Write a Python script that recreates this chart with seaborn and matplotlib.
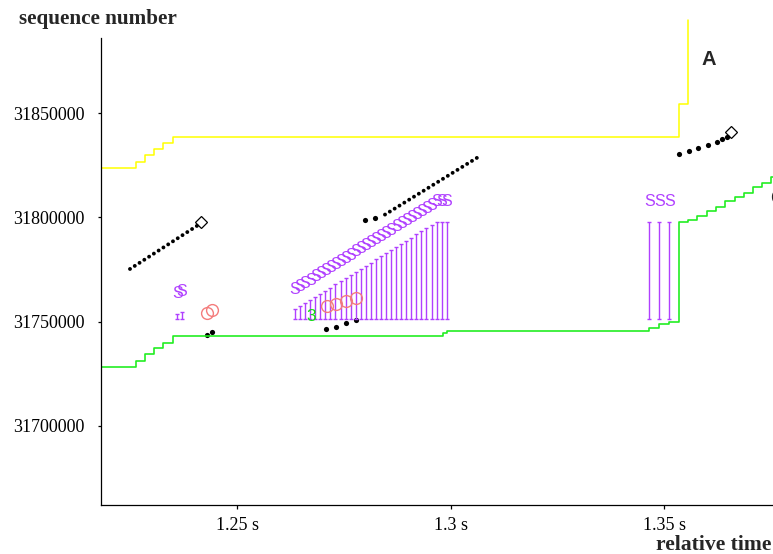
import matplotlib
matplotlib.use("Agg")
import matplotlib.pyplot as plt
import seaborn as sns
import pandas as pd

# ---- data -------------------------------------------------------------
# receive-window edge (yellow step line)
win_t = [1.2180, 1.22616, 1.22834, 1.23052, 1.23262, 1.23482, 1.35340, 1.35557]
win_seq = [31823900, 31826800, 31829800, 31832700, 31835600, 31838800, 31854300, 31894800]

# cumulative ACK (green step line)
ack_t = [1.2180, 1.22616, 1.22834, 1.23052, 1.23262, 1.23482, 1.29801, 1.29906,
         1.34644, 1.34878, 1.35112, 1.35340, 1.35550, 1.35761, 1.35995, 1.36206,
         1.36417, 1.36651, 1.36862, 1.37073, 1.37283, 1.37494, 1.3760]
ack_seq = [31728400, 31731300, 31734400, 31737200, 31739900, 31743100, 31744400, 31745700,
           31747100, 31748800, 31750000, 31797700, 31798800, 31800700, 31803100, 31805000,
           31807900, 31809800, 31811800, 31814600, 31816600, 31819400, 31821800]

# back-to-back segment runs (drawn as dotted runs)
run1_t = [1.22482, 1.24082]
run1_seq = [31775300, 31796400]
run2_t = [1.28454, 1.30621]
run2_seq = [31801400, 31828800]

# isolated segments
seg_t = [1.24279, 1.24403, 1.27986, 1.28220, 1.27066, 1.27300, 1.27534, 1.27768,
         1.35340, 1.35574, 1.35792, 1.36026, 1.36237, 1.36340, 1.36457]
seg_seq = [31743500, 31745100, 31798800, 31799900, 31746400, 31747600, 31749500, 31750700,
           31830500, 31831900, 31833300, 31834800, 31836400, 31837500, 31838800]

# push-flagged segments
push_t = [1.24145, 1.36557]
push_seq = [31797700, 31841200]

# retransmissions
rexmit_t = [1.24293, 1.24396, 1.27089, 1.27307, 1.27541, 1.27775]
rexmit_seq = [31754000, 31755600, 31757500, 31758300, 31759900, 31761400]

# triple duplicate ack marker
dup3_t = [1.26714]
dup3_seq = [31752400]

# SACK blocks
sack_t = [1.23590, 1.23700,
          1.26347, 1.26465, 1.26584, 1.26702, 1.26821, 1.26939, 1.27058, 1.27176,
          1.27294, 1.27413, 1.27531, 1.27650, 1.27768, 1.27887, 1.28005, 1.28123,
          1.28242, 1.28360, 1.28479, 1.28597, 1.28716, 1.28834, 1.28953, 1.29071,
          1.29189, 1.29308, 1.29426, 1.29545, 1.29663, 1.29782, 1.29900,
          1.34644, 1.34878, 1.35112]
sack_top = [31753700, 31754700,
            31755900, 31757400, 31758900, 31760400, 31761900, 31763400, 31764900, 31766400,
            31767900, 31769400, 31770900, 31772400, 31773900, 31775400, 31776900, 31778400,
            31779900, 31781400, 31782900, 31784400, 31785900, 31787400, 31788900, 31790400,
            31791900, 31793400, 31794900, 31796400, 31797900, 31797900, 31797900,
            31798000, 31798000, 31798000]
sack_bottom = 31751400

y_ticks = [31700000, 31750000, 31800000, 31850000]
x_ticks = [1.25, 1.30, 1.35]
x_ticklabels = ["1.25 s", "1.3 s", "1.35 s"]

# ---- style ------------------------------------------------------------
sns.set_style("white")
plt.rcParams["font.family"] = ["Liberation Serif", "DejaVu Serif"]

YELLOW = "#ffff00"
GREEN = "#22ee22"
PURPLE = "#b040ff"
SALMON = "#f47c7c"
SANS = ["Liberation Sans", "DejaVu Sans"]

W, H = 773, 554
fig = plt.figure(figsize=(W / 100, H / 100), dpi=100)
ax = fig.add_axes([101 / W, 49 / H, (W - 101) / W, 505 / H])

ax.set_xlim(1.218033, 1.375410)
ax.set_ylim(31662043, 31904367)

win = pd.DataFrame({"t": win_t, "seq": win_seq})
ack = pd.DataFrame({"t": ack_t, "seq": ack_seq})
sns.lineplot(data=win, x="t", y="seq", ax=ax, color=YELLOW, lw=1.1,
             drawstyle="steps-post", estimator=None, sort=False)
sns.lineplot(data=ack, x="t", y="seq", ax=ax, color=GREEN, lw=1.2,
             drawstyle="steps-post", estimator=None, sort=False)

# SACK bars with end caps and S labels
ax.vlines(sack_t, sack_bottom, sack_top, color=PURPLE, lw=1.0)
ax.plot(sack_t, sack_top, ls="none", marker="_", ms=3.4, mew=1.0, color=PURPLE)
ax.plot(sack_t, [sack_bottom] * len(sack_t), ls="none", marker="_", ms=3.4, mew=1.0, color=PURPLE)
for t, top in zip(sack_t, sack_top):
    ax.annotate("S", xy=(t, top), xytext=(0, 14.4), textcoords="offset points",
                ha="center", va="center", fontsize=11.5, color=PURPLE, family=SANS)

# segment runs
for rt, rs in ((run1_t, run1_seq), (run2_t, run2_seq)):
    ax.plot(rt, rs, color="black", lw=2.8, linestyle=(0, (0.01, 1.45)),
            dash_capstyle="round")
sns.scatterplot(x=seg_t, y=seg_seq, ax=ax, color="black", s=14, linewidth=0)
ax.plot(push_t, push_seq, ls="none", marker="D", ms=6.5, mfc="none", mec="black", mew=0.9)

# retransmissions
ax.plot(rexmit_t, rexmit_seq, ls="none", marker="o", ms=8.5, mfc="none", mec=SALMON, mew=1.0)

for t, s in zip(dup3_t, dup3_seq):
    ax.text(t, s, "3", color="#11dd11", fontsize=12.5, ha="center", va="center", family=SANS)

# ---- axes -------------------------------------------------------------
for side in ("top", "right"):
    ax.spines[side].set_visible(False)
for side in ("left", "bottom"):
    ax.spines[side].set_color("black")
    ax.spines[side].set_linewidth(0.9)
ax.spines["left"].set_bounds(31662043, 31886133)

ax.set_yticks(y_ticks)
ax.set_yticklabels([str(v) for v in y_ticks])
ax.set_xticks(x_ticks)
ax.set_xticklabels(x_ticklabels)
ax.tick_params(axis="y", direction="out", length=2.5, width=0.9, pad=9.5,
               labelsize=13, colors="black", left=True)
ax.tick_params(axis="x", direction="out", length=3, width=0.9, pad=6,
               labelsize=13, colors="black", bottom=True)
ax.set_xlabel("")
ax.set_ylabel("")
ax.grid(False)

fig.text(19 / W, 1 - 24 / H, "sequence number", fontsize=15.2, fontweight="bold",
         ha="left", va="baseline")
fig.text(771 / W, 1 - 550 / H, "relative time", fontsize=15.6, fontweight="bold",
         ha="right", va="baseline")
fig.text(708.5 / W, 1 - 59.5 / H, "A", fontsize=14.5, fontweight="bold", ha="center",
         va="center", family=SANS)
fig.text(770 / W, 1 - 198.5 / H, "C", fontsize=14.5, fontweight="bold", ha="left",
         va="center", family=SANS)

fig.savefig("out.png", dpi=100)
